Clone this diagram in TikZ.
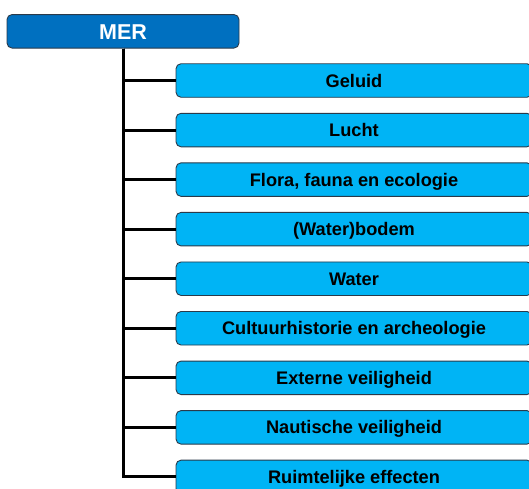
\documentclass[tikz,border=0pt]{standalone}
\usepackage{fontspec}
\setmainfont{Liberation Sans}
\definecolor{mainblue}{HTML}{0070C0}
\definecolor{lightblue}{HTML}{00B4F5}
\definecolor{edgegray}{HTML}{2A3A4A}
\begin{document}
\begin{tikzpicture}[x=1pt,y=-1pt,
  rootbox/.style={draw=edgegray, line width=0.9pt, fill=mainblue, rounded corners=5pt,
    minimum width=232pt, minimum height=33.5pt, inner sep=0pt, text=white,
    text height=15.5pt, text depth=0pt,
    font=\bfseries\fontsize{21.5}{22}\selectfont},
  childbox/.style={draw=edgegray, line width=0.9pt, fill=lightblue, rounded corners=5pt,
    minimum width=356pt, minimum height=33.5pt, inner sep=0pt, text=black,
    text height=13pt, text depth=0pt,
    font=\bfseries\fontsize{18.2}{19}\selectfont},
  link/.style={line width=3pt, draw=black}]
\useasboundingbox (0,0) rectangle (529,488);
\node[rootbox] (mer) at (123,31.3) {MER};
\foreach \i/\t in {0/Geluid,1/Lucht,2/{Flora, fauna en ecologie},3/(Water)bodem,4/Water,
  5/Cultuurhistorie en archeologie,6/Externe veiligheid,7/Nautische veiligheid,8/Ruimtelijke effecten}{
  \node[childbox] (c\i) at (354,{80.5+49.55*\i}) {\t};
}
\foreach \i in {0,...,8}{
  \draw[link] (mer.south) |- (c\i.west);
}
\end{tikzpicture}
\end{document}
